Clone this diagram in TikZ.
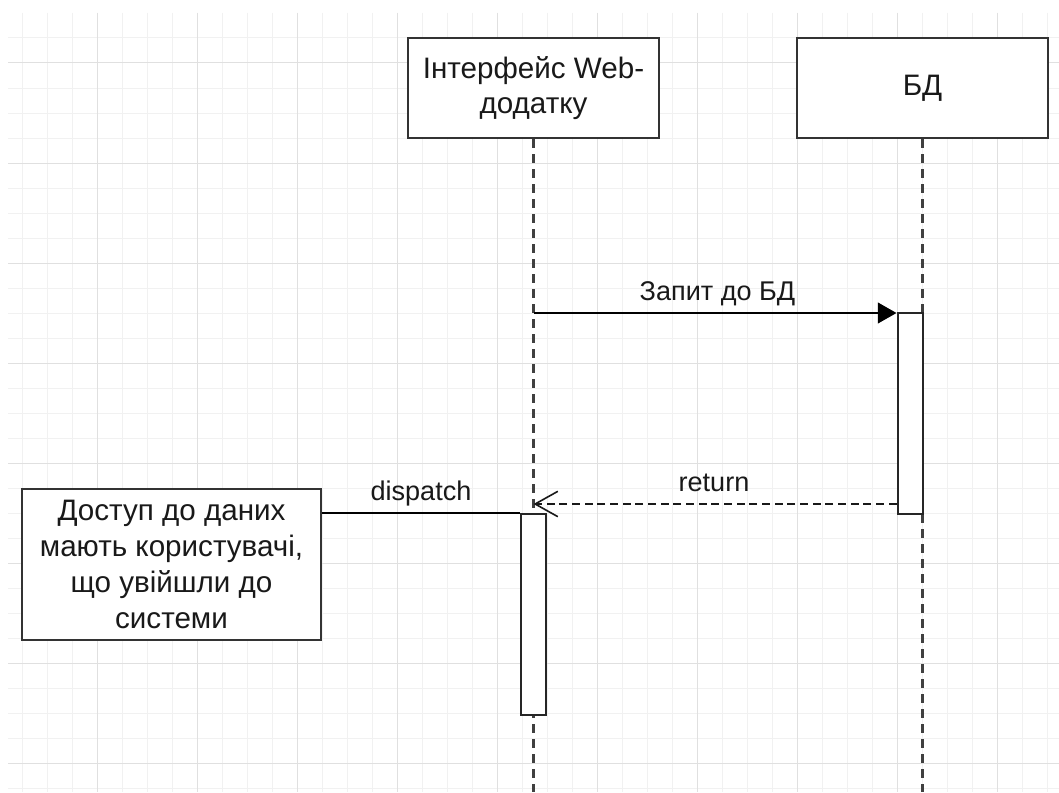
\documentclass[tikz,border=0pt]{standalone}
\usepackage{fontspec}
\setmainfont{Liberation Sans}
\usetikzlibrary{arrows.meta}
\definecolor{minorgrid}{HTML}{F1F1F1}
\definecolor{majorgrid}{HTML}{E0E0E0}
\definecolor{boxline}{HTML}{333333}
\begin{document}
\begin{tikzpicture}[x=0.75pt,y=-0.75pt,
  every node/.style={text=black!90},
  boxfont/.style={font=\fontsize{22.2}{26.8}\selectfont},
  edgefont/.style={font=\fontsize{20.3}{24}\selectfont},
  participant/.style={boxfont, draw=boxline, line width=2pt, fill=white, minimum width=188.25pt, minimum height=75pt, align=center, inner sep=0pt},
  notebox/.style={boxfont, draw=boxline, line width=2pt, fill=white, minimum width=224.25pt, minimum height=113.25pt, align=center, inner sep=0pt},
  activation/.style={draw=black!85, line width=1.5pt, fill=white, minimum width=18.75pt, minimum height=150.75pt, inner sep=0pt},
  lifeline/.style={draw=black!75, line width=1.6pt, dash pattern=on 6.5pt off 4.75pt},
  msg/.style={draw=black, line width=1.5pt},
  retmsg/.style={draw=black!90, line width=1.5pt, dash pattern=on 6pt off 3.5pt},
  lbl/.style={edgefont, inner sep=0pt, anchor=base}
]
\useasboundingbox (0,0) rectangle (1059,792);
\fill[white] (0,0) rectangle (1059,792);
% grid
\begin{scope}
\clip (8,13) rectangle (1059,792);
\foreach \x in {22,47,...,1047} \draw[minorgrid, line width=0.75pt] (\x,13) -- (\x,792);
\foreach \y in {38,63,...,788} \draw[minorgrid, line width=0.75pt] (8,\y) -- (1059,\y);
\foreach \x in {97,197,...,997} \draw[majorgrid, line width=0.75pt] (\x,13) -- (\x,792);
\foreach \y in {63,163,...,763} \draw[majorgrid, line width=0.75pt] (8,\y) -- (1059,\y);
\end{scope}
% lifelines
\coordinate (ifend) at (533.5,792);
\coordinate (dbend) at (922.5,792);
\node[participant] (iface) at (533.5,88) {Інтерфейс Web-\\додатку};
\node[participant] (db) at (922.5,88) {БД};
\draw[lifeline] (iface.south) -- (ifend);
\draw[lifeline] (db.south) -- (dbend);
% activations
\node[activation] (actdb) at (910,413.5) {};
\node[activation] (actif) at (533.5,614.5) {};
% note
\node[notebox] (note) at (171.5,564.5) {Доступ до даних\\мають користувачі,\\що увійшли до\\системи};
% messages
\coordinate (q1) at (533.5,313);
\coordinate (r1) at (533.5,504);
\draw[msg, -{Triangle[length=14pt,width=15.5pt]}] (q1) -- (q1 -| actdb.west);
\node[lbl] (lq) at (717.5,300) {Запит до БД};
\draw[retmsg, -{Straight Barb[length=17pt,width=19pt,line width=1.2pt]}] (actdb.west |- r1) -- (r1);
\node[lbl] (lr) at (714,491) {return};
\draw[msg] (note.east |- actif.north) -- (actif.north west);
\node[lbl] (ld) at (421,500) {dispatch};
\end{tikzpicture}
\end{document}
